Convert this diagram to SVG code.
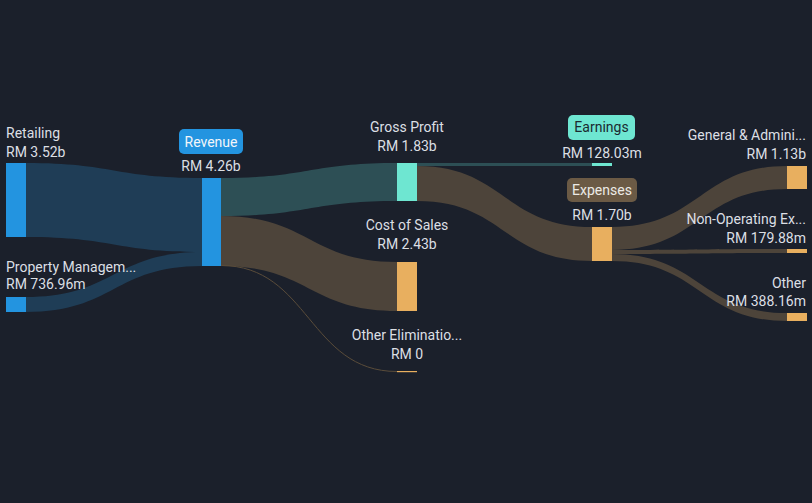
<svg xmlns="http://www.w3.org/2000/svg" width="812" height="503" viewBox="0 0 812 503">
<style>
text{font-family:Roboto,"Liberation Sans",sans-serif;font-size:14px;fill:#dcdfe4}
.r{text-anchor:end}.m{text-anchor:middle}
.lb{fill:#1f3d56}.lt{fill:#2d4f55}.lo{fill:#4d443a}
.nb{fill:#2394e0}.nt{fill:#6ee6d1}.no{fill:#e8af5f}
</style>
<rect width="812" height="503" fill="#1b202b"/>
<g id="connectors">
<path class="lb" d="M26,163 C114,163 114,178 202,178 L202,252 C114,252 114,237 26,237 Z"/>
<path class="lb" d="M26,297 C114,297 114,252 202,252 L202,266 C114,266 114,312 26,312 Z"/>
<path class="lt" d="M221,178 C309,178 309,163 397,163 L397,201 C309,201 309,216 221,216 Z"/>
<path class="lo" d="M221,216 C309,216 309,262 397,262 L397,311 C309,311 309,266 221,266 Z"/>
<path d="M221,265.5 C309,265.5 309,371.5 397,371.5" fill="none" stroke="#5a4c3a" stroke-width="1"/>
<path class="lt" d="M417,163 C504,163 504,163 592,163 L592,166 C504,166 504,166 417,166 Z"/>
<path class="lo" d="M417,166 C504,166 504,227 592,227 L592,261 C504,261 504,201 417,201 Z"/>
<path class="lo" d="M612,227 C700,227 700,166 787,166 L787,189 C700,189 700,250 612,250 Z"/>
<path class="lo" d="M612,250 C700,250 700,249 787,249 L787,253 C700,253 700,254 612,254 Z"/>
<path class="lo" d="M612,254 C700,254 700,313 787,313 L787,321 C700,321 700,261 612,261 Z"/>
</g>
<g id="retailing">
<rect class="nb" x="6" y="163" width="20" height="74"/>
<text x="6" y="138">Retailing</text>
<text x="6" y="157">RM 3.52b</text>
</g>
<g id="property-management">
<rect class="nb" x="6" y="297" width="20" height="15"/>
<text x="6" y="272">Property Managem...</text>
<text x="6" y="289">RM 736.96m</text>
</g>
<g id="revenue">
<rect class="nb" x="202" y="178" width="19" height="88"/>
<rect x="179" y="129" width="64" height="25" rx="5" fill="#2394e0"/>
<text class="m" x="211" y="146.5" style="fill:#f2f6fa">Revenue</text>
<text class="m" x="211" y="171">RM 4.26b</text>
</g>
<g id="gross-profit">
<rect class="nt" x="397" y="163" width="20" height="38"/>
<text class="m" x="407" y="132">Gross Profit</text>
<text class="m" x="407" y="151">RM 1.83b</text>
</g>
<g id="cost-of-sales">
<rect class="no" x="397" y="262" width="20" height="49"/>
<text class="m" x="407" y="229.5">Cost of Sales</text>
<text class="m" x="407" y="248.5">RM 2.43b</text>
</g>
<g id="other-eliminations">
<rect class="no" x="397" y="371" width="20" height="1.2"/>
<text class="m" x="407" y="339.5">Other Eliminatio...</text>
<text class="m" x="407" y="358.5">RM 0</text>
</g>
<g id="earnings">
<rect class="nt" x="592" y="163" width="20" height="3"/>
<rect x="568" y="115" width="67" height="25" rx="5" fill="#6ee6d1"/>
<text class="m" x="601.5" y="132" style="fill:#1b2a30">Earnings</text>
<text class="m" x="602" y="157.5">RM 128.03m</text>
</g>
<g id="expenses">
<rect class="no" x="592" y="227" width="20" height="34"/>
<rect x="567" y="178" width="70" height="24" rx="5" fill="#6b5a45"/>
<text class="m" x="602" y="194.5" style="fill:#eceae6">Expenses</text>
<text class="m" x="602" y="219.5">RM 1.70b</text>
</g>
<g id="general-admin">
<rect class="no" x="787" y="166" width="20" height="23"/>
<text class="r" x="806" y="140">General &amp; Admini...</text>
<text class="r" x="806" y="158.5">RM 1.13b</text>
</g>
<g id="non-operating">
<rect class="no" x="787" y="249" width="20" height="4"/>
<text class="r" x="806" y="223.5">Non-Operating Ex...</text>
<text class="r" x="806" y="242.5">RM 179.88m</text>
</g>
<g id="other">
<rect class="no" x="787" y="313" width="20" height="8"/>
<text class="r" x="806" y="287.5">Other</text>
<text class="r" x="806" y="306">RM 388.16m</text>
</g>
</svg>
